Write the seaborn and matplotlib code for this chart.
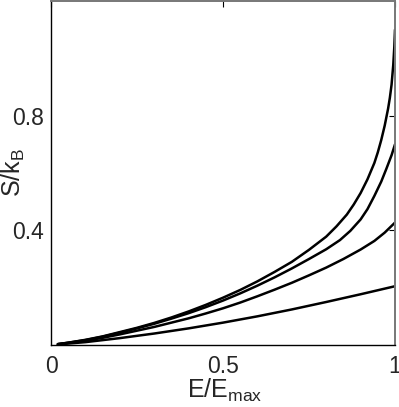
import numpy as np
import pandas as pd
import matplotlib
matplotlib.use("Agg")
import matplotlib.pyplot as plt
import seaborn as sns

# ─────────────────────────────────────────
# values
# ─────────────────────────────────────────
e_a = [0.02, 0.05, 0.1, 0.15, 0.2, 0.25, 0.3, 0.35, 0.4, 0.45, 0.5, 0.55,
       0.6, 0.65, 0.7, 0.75, 0.8, 0.83, 0.86, 0.88, 0.9, 0.92, 0.94, 0.95,
       0.96, 0.97, 0.98, 0.985, 0.99, 0.995, 0.998, 1.0]
s_a = [0.003, 0.008, 0.018, 0.030, 0.045, 0.060, 0.077, 0.096, 0.117, 0.140,
       0.165, 0.192, 0.222, 0.255, 0.290, 0.332, 0.378, 0.414, 0.455, 0.490,
       0.530, 0.578, 0.635, 0.672, 0.715, 0.765, 0.825, 0.862, 0.908, 0.978,
       1.040, 1.100]

e_b = [0.02, 0.05, 0.1, 0.15, 0.2, 0.25, 0.3, 0.35, 0.4, 0.45, 0.5, 0.55,
       0.6, 0.65, 0.7, 0.75, 0.8, 0.84, 0.87, 0.9, 0.92, 0.94, 0.96, 0.975,
       0.99, 1.0]
s_b = [0.003, 0.008, 0.017, 0.029, 0.043, 0.058, 0.074, 0.092, 0.111, 0.132,
       0.155, 0.180, 0.207, 0.236, 0.267, 0.300, 0.334, 0.366, 0.398, 0.438,
       0.474, 0.520, 0.570, 0.615, 0.662, 0.700]

e_c = [0.02, 0.05, 0.1, 0.15, 0.2, 0.25, 0.3, 0.35, 0.4, 0.45, 0.5, 0.55,
       0.6, 0.65, 0.7, 0.75, 0.8, 0.85, 0.9, 0.94, 0.97, 1.0]
s_c = [0.003, 0.007, 0.015, 0.025, 0.037, 0.050, 0.063, 0.078, 0.093, 0.110,
       0.128, 0.148, 0.170, 0.193, 0.217, 0.243, 0.270, 0.300, 0.333, 0.363,
       0.392, 0.427]

e_d = [0.02, 0.05, 0.1, 0.15, 0.2, 0.3, 0.4, 0.5, 0.6, 0.7, 0.8, 0.9, 1.0]
s_d = [0.002, 0.005, 0.010, 0.017, 0.024, 0.040, 0.058, 0.078, 0.100, 0.124,
       0.150, 0.177, 0.205]

x_ticks = [0, 0.5, 1]
x_labels = ["0", "0.5", "1"]
y_ticks = [0.4, 0.8]
y_labels = ["0.4", "0.8"]

curves = [("a", e_a, s_a), ("b", e_b, s_b), ("c", e_c, s_c), ("d", e_d, s_d)]
df = pd.concat(
    [pd.DataFrame({"E": e, "S": s, "curve": name}) for name, e, s in curves],
    ignore_index=True,
)

# ─────────────────────────────────────────
# plot
# ─────────────────────────────────────────
sns.set_style("white")
plt.rcParams["font.family"] = ["Liberation Sans", "DejaVu Sans"]
plt.rcParams["mathtext.fontset"] = "custom"
plt.rcParams["mathtext.rm"] = "Liberation Sans"

fig = plt.figure(figsize=(3.99, 4.07), dpi=100)
ax = fig.add_axes([51 / 399, 62 / 407, 344 / 399, 344 / 407])

for name, grp in df.groupby("curve"):
    sns.lineplot(data=grp, x="E", y="S", color="black", linewidth=1.8,
                 sort=False, estimator=None, ax=ax)

ax.set_xlim(0, 1)
ax.set_ylim(0, 1.2)
ax.set_xticks(x_ticks)
ax.set_xticklabels(x_labels)
ax.set_yticks(y_ticks)
ax.set_yticklabels(y_labels)
ax.tick_params(direction="in", length=4, width=0.8, top=True, right=True,
               labelsize=16.5, color="black")
ax.tick_params(axis="x", pad=7)
ax.tick_params(axis="y", pad=5)

for side in ["left", "bottom"]:
    ax.spines[side].set_color("black")
    ax.spines[side].set_linewidth(1.0)
for side in ["right", "top"]:
    ax.spines[side].set_color("#777777")
    ax.spines[side].set_linewidth(1.4)

ax.set_xlabel(r"E/E$_\mathregular{max}$", fontsize=18)
ax.set_ylabel(r"S/k$_\mathregular{B}$", fontsize=18)
ax.xaxis.set_label_coords(0.506, -0.092)
ax.yaxis.set_label_coords(-0.07, 0.5)

plt.savefig("out.png", dpi=100)
